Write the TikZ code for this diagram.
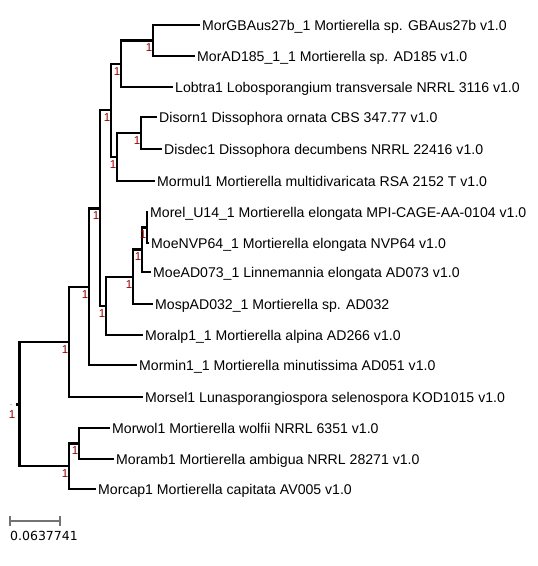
\documentclass[tikz,border=0pt]{standalone}
\usepackage{fontspec}
\setsansfont{Liberation Sans}
\newfontfamily\barfont{DejaVu Sans}
\usepackage{tikz}
\usetikzlibrary{positioning}
\definecolor{supred}{RGB}{150,0,0}
\definecolor{bargray}{RGB}{115,115,115}

\begin{document}
\begin{tikzpicture}[
  x=1pt, y=-1pt,
  every node/.style={font=\sffamily},
  branch/.style={line width=2.2pt, draw=black},
  taxon/.style={anchor=west, inner sep=0pt, text height=10pt, text depth=0pt,
                font=\sffamily\fontsize{14.1}{16}\selectfont},
  sup/.style={inner sep=0pt, text=supred, font=\sffamily\fontsize{11.5}{12}\selectfont},
  scalebar/.style={line width=1.6pt, draw=bargray},
]
  \useasboundingbox (0,0) rectangle (538,566);

  % Internal nodes
  \coordinate (r)   at (19.5,404.5);
  \coordinate (n1)  at (69,342);
  \coordinate (n2)  at (69,466);
  \coordinate (n3)  at (89,287);
  \coordinate (n4)  at (100,208.5);
  \coordinate (n5)  at (111,110);
  \coordinate (n6)  at (106,306);
  \coordinate (n7)  at (121,64);
  \coordinate (n8)  at (153,40.5);
  \coordinate (n9)  at (117,157);
  \coordinate (n10) at (141,133);
  \coordinate (n11) at (133,277);
  \coordinate (n12) at (142,249.5);
  \coordinate (n13) at (147,227.5);
  \coordinate (n14) at (79,443.5);

  % Tips
  \foreach \n/\x/\y in {tGB/200/25, tAD/195/56, tLob/173/87, tDor/157/117,
      tDde/162/149, tMul/155/181, tEl/148/212, tNVP/149/243, tAD73/151/272,
      tSp32/153/304, tAlp/143/335, tMin/137/365, tSel/143/397, tWol/110/428,
      tAmb/114/459, tCap/96/489}
    \coordinate (\n) at (\x,\y);

  % Branches
  \foreach \p/\c in {r/n1, r/n2, n1/n3, n1/tSel, n3/n4, n3/tMin, n4/n5, n4/n6,
      n5/n7, n5/n9, n7/n8, n7/tLob, n8/tGB, n8/tAD, n9/n10, n9/tMul,
      n10/tDor, n10/tDde, n6/n11, n6/tAlp, n11/n12, n11/tSp32, n12/n13,
      n12/tAD73, n13/tEl, n13/tNVP, n2/n14, n2/tCap, n14/tWol, n14/tAmb}
    \draw[branch] (\p) |- (\c);

  % Taxon names
  \foreach \n/\txt in {
      tGB/{MorGBAus27b\_1 Mortierella sp. GBAus27b v1.0},
      tAD/{MorAD185\_1\_1 Mortierella sp. AD185 v1.0},
      tLob/{Lobtra1 Lobosporangium transversale NRRL 3116 v1.0},
      tDor/{Disorn1 Dissophora ornata CBS 347.77 v1.0},
      tDde/{Disdec1 Dissophora decumbens NRRL 22416 v1.0},
      tMul/{Mormul1 Mortierella multidivaricata RSA 2152 T v1.0},
      tEl/{Morel\_U14\_1 Mortierella elongata MPI-CAGE-AA-0104 v1.0},
      tNVP/{MoeNVP64\_1 Mortierella elongata NVP64 v1.0},
      tAD73/{MoeAD073\_1 Linnemannia elongata AD073 v1.0},
      tSp32/{MospAD032\_1 Mortierella sp. AD032},
      tAlp/{Moralp1\_1 Mortierella alpina AD266 v1.0},
      tMin/{Mormin1\_1 Mortierella minutissima AD051 v1.0},
      tSel/{Morsel1 Lunasporangiospora selenospora KOD1015 v1.0},
      tWol/{Morwol1 Mortierella wolfii NRRL 6351 v1.0},
      tAmb/{Moramb1 Mortierella ambigua NRRL 28271 v1.0},
      tCap/{Morcap1 Mortierella capitata AV005 v1.0}}
    \node[taxon, right=2pt of \n] (l\n) {\txt};

  % Support values
  \foreach \n in {n1,n2,n3,n4,n5,n6,n7,n8,n9,n10,n11,n12,n13,n14}
    \node[sup, below left=3pt and 0.5pt of \n] (s\n) {1};

  % Root
  \node[circle, fill=black!35, inner sep=0pt, minimum size=1.5pt] (r0) at (11,404.5) {};
  \node[rectangle, fill=black, inner sep=0pt, minimum size=3pt] (rp) at (17,404.5) {};
  \node[sup, below=5pt of r0, xshift=1pt] (sr) {1};

  % Scale bar
  \coordinate (sbA) at (10,521);
  \coordinate (sbB) at (60,521);
  \draw[scalebar] (sbA) -- (sbB);
  \draw[scalebar] ([yshift=5pt]sbA) -- ([yshift=-5pt]sbA);
  \draw[scalebar] ([yshift=5pt]sbB) -- ([yshift=-5pt]sbB);
  \node[inner sep=0pt, font=\barfont\fontsize{12.5}{13}\selectfont,
        below right=10pt and 0pt of sbA] (sbL) {0.0637741};
\end{tikzpicture}
\end{document}
